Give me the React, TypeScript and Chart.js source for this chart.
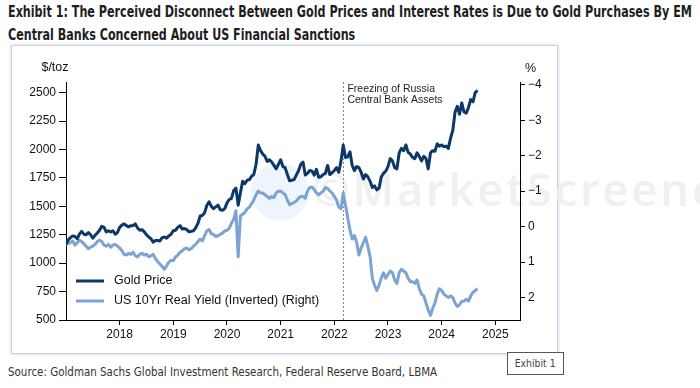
import React, { useEffect, useRef } from "react";
import { Chart, registerables } from "chart.js";
Chart.register(...registerables);

// Semi-monthly observations (1st and 16th of each month), Jan 2017 .. Sep 2024
const START_YEAR = 2017;
const STEPS_PER_YEAR = 24;

const goldPrice = [
  // 2017
  1165, 1205, 1225, 1240, 1235, 1215, 1255, 1280, 1255, 1250, 1270, 1250,
  1220, 1245, 1265, 1290, 1325, 1315, 1275, 1285, 1275, 1285, 1255, 1270,
  // 2018
  1315, 1335, 1345, 1330, 1320, 1330, 1330, 1345, 1310, 1290, 1295, 1275,
  1250, 1230, 1215, 1185, 1200, 1200, 1195, 1225, 1230, 1220, 1240, 1255,
  // 2019
  1285, 1290, 1315, 1330, 1300, 1305, 1295, 1275, 1280, 1285, 1310, 1350,
  1415, 1420, 1445, 1510, 1540, 1500, 1480, 1495, 1510, 1470, 1465, 1480,
  // 2020
  1530, 1560, 1570, 1640, 1660, 1510, 1620, 1720, 1700, 1730, 1735, 1765,
  1780, 1870, 2040, 1990, 1960, 1940, 1895, 1910, 1890, 1860, 1830, 1870,
  // 2021
  1910, 1850, 1840, 1780, 1725, 1730, 1735, 1775, 1815, 1870, 1890, 1775,
  1790, 1815, 1810, 1775, 1825, 1755, 1760, 1780, 1790, 1860, 1780, 1795,
  // 2022
  1815, 1840, 1800, 1900, 2040, 1930, 1935, 1980, 1860, 1815, 1850, 1840,
  1800, 1740, 1780, 1760, 1720, 1665, 1680, 1645, 1660, 1760, 1790, 1810,
  // 2023
  1850, 1920, 1900, 1840, 1830, 1970, 2010, 1990, 2040, 1975, 1960, 1930,
  1920, 1970, 1940, 1900, 1940, 1920, 1830, 1970, 1990, 1985, 2050, 2030,
  // 2024
  2040, 2025, 2030, 2010, 2100, 2170, 2330, 2380, 2310, 2410, 2330, 2320,
  2370, 2440, 2420, 2500, 2520,
];

const realYield = [
  // 2017
  0.5, 0.48, 0.45, 0.4, 0.52, 0.45, 0.38, 0.42, 0.48, 0.55, 0.62, 0.58,
  0.55, 0.5, 0.42, 0.38, 0.42, 0.52, 0.55, 0.5, 0.58, 0.52, 0.5, 0.55,
  // 2018
  0.6, 0.68, 0.78, 0.8, 0.75, 0.78, 0.72, 0.82, 0.85, 0.78, 0.75, 0.8,
  0.78, 0.85, 0.82, 0.78, 0.9, 0.98, 1.05, 1.12, 1.2, 1.1, 1.0, 0.95,
  // 2019
  0.95, 0.85, 0.8, 0.72, 0.68, 0.62, 0.6, 0.65, 0.62, 0.55, 0.5, 0.42,
  0.35, 0.4, 0.25, 0.12, 0.08, 0.2, 0.22, 0.28, 0.25, 0.22, 0.18, 0.12,
  // 2020
  0.1, 0.05, -0.1, -0.2, -0.45, 0.85, -0.3, -0.35, -0.4, -0.5, -0.55, -0.65,
  -0.75, -0.9, -1.0, -0.95, -0.95, -0.9, -0.85, -0.8, -0.85, -0.82, -0.95, -1.0,
  // 2021
  -1.0, -0.95, -0.9, -0.75, -0.62, -0.65, -0.68, -0.72, -0.8, -0.85, -0.85, -0.8,
  -1.0, -1.1, -1.12, -1.05, -0.95, -0.9, -0.95, -1.0, -1.1, -1.08, -1.0, -0.95,
  // 2022
  -0.85, -0.75, -0.55, -0.5, -0.95, -0.6, -0.25, 0.1, 0.35, 0.25, 0.45, 0.8,
  0.6, 0.45, 0.3, 0.55, 0.85, 1.45, 1.65, 1.8, 1.65, 1.45, 1.3, 1.45,
  // 2023
  1.35, 1.25, 1.3, 1.5, 1.6, 1.3, 1.2, 1.25, 1.3, 1.45, 1.55, 1.55,
  1.6, 1.5, 1.75, 1.9, 1.95, 2.15, 2.35, 2.5, 2.3, 2.15, 1.9, 1.75,
  // 2024
  1.8, 1.9, 1.95, 2.0, 1.95, 2.0, 2.15, 2.25, 2.2, 2.1, 2.1, 2.05,
  2.1, 1.95, 1.85, 1.8, 1.75,
];

const xTickYears = [2018, 2019, 2020, 2021, 2022, 2023, 2024, 2025];
const leftTicks = [500, 750, 1000, 1250, 1500, 1750, 2000, 2250, 2500];
const rightTicks = [-4, -3, -2, -1, 0, 1, 2];
const sanctionsDate = 2022.17;
const seriesNames = ["Gold Price", "US 10Yr Real Yield (Inverted) (Right)"];
const annotationLines = ["Freezing of Russia", "Central Bank Assets"];
const titleLines = [
  "Exhibit 1: The Perceived Disconnect Between Gold Prices and Interest Rates is Due to Gold Purchases By EM",
  "Central Banks Concerned About US Financial Sanctions",
];
const sourceText = "Source: Goldman Sachs Global Investment Research, Federal Reserve Board, LBMA";

const GOLD = "#0d3766";
const YIELD = "#7ba3d3";
const AXIS_FONT = "'Liberation Sans', Arial, sans-serif";
const CONDENSED = "'DejaVu Sans', sans-serif";

const toPoints = (vals: number[]) =>
  vals.map((v, i) => ({ x: START_YEAR + i / STEPS_PER_YEAR, y: v }));

const overlayPlugin = {
  id: "overlay",
  beforeDatasetsDraw(chart: any) {
    const { ctx, chartArea, scales } = chart;
    const x = Math.round(scales.x.getPixelForValue(sanctionsDate)) + 0.5;
    ctx.save();
    ctx.strokeStyle = "#8a8a8a";
    ctx.lineWidth = 1;
    ctx.setLineDash([2, 2]);
    ctx.beginPath();
    ctx.moveTo(x, chartArea.top);
    ctx.lineTo(x, chartArea.bottom);
    ctx.stroke();
    ctx.restore();
  },
  afterDraw(chart: any) {
    const { ctx, chartArea, scales } = chart;
    const x = scales.x.getPixelForValue(sanctionsDate);
    ctx.save();
    ctx.fillStyle = "#222";
    ctx.font = `10.5px ${AXIS_FONT}`;
    ctx.textBaseline = "middle";
    ctx.textAlign = "left";
    ctx.fillText(annotationLines[0], x + 4, chartArea.top + 7);
    ctx.fillText(annotationLines[1], x + 4, chartArea.top + 18);
    const colors = [GOLD, YIELD];
    ctx.font = `12.5px ${AXIS_FONT}`;
    seriesNames.forEach((name, i) => {
      const y = chartArea.bottom - 39 + i * 20;
      ctx.strokeStyle = colors[i];
      ctx.lineWidth = 3;
      ctx.beginPath();
      ctx.moveTo(chartArea.left + 10, y);
      ctx.lineTo(chartArea.left + 38, y);
      ctx.stroke();
      ctx.fillStyle = "#111";
      ctx.fillText(name, chartArea.left + 48, y);
    });
    ctx.restore();
  },
};

export default function App() {
  const ref = useRef<HTMLCanvasElement>(null);
  const t1 = useRef<HTMLDivElement>(null);
  const t2 = useRef<HTMLDivElement>(null);
  const src = useRef<HTMLDivElement>(null);

  useEffect(() => {
    // squeeze the text horizontally to the condensed widths of the reference
    if (t1.current && t2.current) {
      const k = 684 / t1.current.scrollWidth;
      t1.current.style.transform = `scaleX(${k})`;
      t2.current.style.transform = `scaleX(${k})`;
    }
    if (src.current) {
      const k = 429 / src.current.scrollWidth;
      src.current.style.transform = `scaleX(${k})`;
    }
  }, []);

  useEffect(() => {
    if (!ref.current) return;
    const tickFont = { family: AXIS_FONT, size: 12 };
    const chart = new Chart(ref.current, {
      type: "line",
      data: {
        datasets: [
          {
            label: seriesNames[0],
            data: toPoints(goldPrice),
            borderColor: GOLD,
            borderWidth: 3,
            pointRadius: 0,
            yAxisID: "y",
          },
          {
            label: seriesNames[1],
            data: toPoints(realYield),
            borderColor: YIELD,
            borderWidth: 3,
            pointRadius: 0,
            yAxisID: "y1",
          },
        ],
      },
      options: {
        animation: false,
        responsive: false,
        maintainAspectRatio: false,
        layout: { padding: { top: 36, left: 0, right: 0, bottom: 0 } },
        plugins: { legend: { display: false }, tooltip: { enabled: false } },
        elements: { line: { tension: 0, borderJoinStyle: "round" } },
        scales: {
          x: {
            type: "linear",
            min: 2017.0,
            max: 2025.46,
            afterBuildTicks: (s: any) => {
              s.ticks = xTickYears.map((v) => ({ value: v }));
            },
            afterFit: (s: any) => {
              s.height = 33;
            },
            grid: { drawOnChartArea: false, tickLength: 5, color: "#000" },
            border: { color: "#000", width: 1 },
            ticks: {
              font: tickFont,
              color: "#111",
              padding: 2,
              maxRotation: 0,
              autoSkip: false,
              callback: (v: any) => String(v),
            },
          },
          y: {
            type: "linear",
            position: "left",
            min: 500,
            max: 2594,
            afterBuildTicks: (s: any) => {
              s.ticks = leftTicks.map((v) => ({ value: v }));
            },
            afterFit: (s: any) => {
              s.width = 54;
            },
            grid: { drawOnChartArea: false, tickLength: 7, color: "#000" },
            border: { color: "#000", width: 1 },
            ticks: {
              font: tickFont,
              color: "#111",
              padding: 3,
              callback: (v: any) => String(v),
            },
          },
          y1: {
            type: "linear",
            position: "right",
            reverse: true,
            min: -4.076,
            max: 2.63,
            afterBuildTicks: (s: any) => {
              s.ticks = rightTicks.map((v) => ({ value: v }));
            },
            afterFit: (s: any) => {
              s.width = 37;
            },
            grid: { drawOnChartArea: false, tickLength: 5, color: "#000" },
            border: { color: "#000", width: 1 },
            ticks: {
              font: tickFont,
              color: "#111",
              padding: 3,
              callback: (v: any) => (v < 0 ? "\u2212" + Math.abs(v) : String(v)),
            },
          },
        },
      },
      plugins: [overlayPlugin],
    } as any);
    return () => chart.destroy();
  }, []);

  const titleStyle: React.CSSProperties = {
    position: "absolute",
    left: 8,
    fontFamily: CONDENSED,
    fontWeight: "bold",
    fontSize: 15,
    lineHeight: "23px",
    color: "#1e1e1e",
    whiteSpace: "nowrap",
    transformOrigin: "0 50%",
  };

  return (
    <div
      style={{
        position: "absolute",
        left: 0,
        top: 0,
        width: 700,
        height: 388,
        overflow: "hidden",
        background: "#fff",
      }}
    >
      <div ref={t1} style={{ ...titleStyle, top: 1 }}>
        {titleLines[0]}
      </div>
      <div ref={t2} style={{ ...titleStyle, top: 24 }}>
        {titleLines[1]}
      </div>

      <div
        style={{
          position: "absolute",
          left: 11,
          top: 45,
          width: 547,
          height: 309,
          boxSizing: "border-box",
          border: "1px solid #c6d3e3",
          boxShadow: "0 0 3px rgba(110,140,180,0.45)",
          background: "#fff",
        }}
      />

      <div
        style={{
          position: "absolute",
          left: 251,
          top: 163,
          width: 58,
          height: 58,
          borderRadius: "50%",
          background: "rgba(232,242,251,0.75)",
        }}
      />
      <div
        style={{
          position: "absolute",
          left: 312,
          top: 166,
          fontFamily: "'Open Sans', sans-serif",
          fontWeight: 600,
          fontSize: 45,
          lineHeight: "45px",
          letterSpacing: 3,
          color: "#f0f0f0",
          whiteSpace: "nowrap",
        }}
      >
        ©MarketScreener
      </div>

      <canvas
        ref={ref}
        width={545}
        height={307}
        style={{ position: "absolute", left: 12, top: 46, width: 545, height: 307 }}
      />

      <div
        style={{
          position: "absolute",
          left: 40,
          top: 59,
          width: 30,
          textAlign: "center",
          fontFamily: AXIS_FONT,
          fontSize: 12.5,
          lineHeight: "16px",
          color: "#111",
        }}
      >
        $/toz
      </div>
      <div
        style={{
          position: "absolute",
          left: 525,
          top: 60,
          fontFamily: AXIS_FONT,
          fontSize: 12.5,
          lineHeight: "16px",
          color: "#111",
        }}
      >
        %
      </div>

      <div
        ref={src}
        style={{
          position: "absolute",
          left: 8,
          top: 364,
          fontFamily: CONDENSED,
          fontSize: 12.5,
          lineHeight: "16px",
          color: "#333",
          whiteSpace: "nowrap",
          transformOrigin: "0 50%",
        }}
      >
        {sourceText}
      </div>

      <div
        style={{
          position: "absolute",
          left: 507,
          top: 352,
          width: 57,
          height: 23,
          boxSizing: "border-box",
          border: "1px solid #555",
          background: "#fff",
          fontFamily: CONDENSED,
          fontSize: 11,
          lineHeight: "21px",
          textAlign: "center",
          color: "#444",
        }}
      >
        <span style={{ display: "inline-block", transform: "scaleX(0.85)" }}>Exhibit 1</span>
      </div>
    </div>
  );
}
